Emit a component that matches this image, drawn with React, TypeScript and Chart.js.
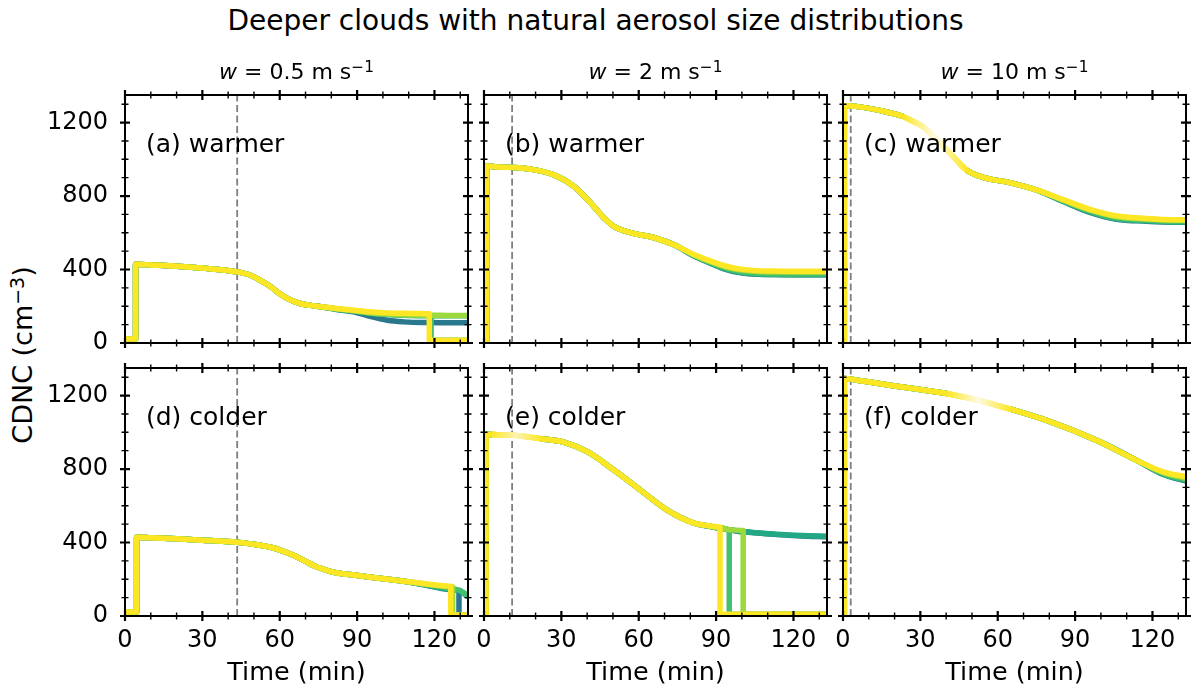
import React, { useEffect, useRef } from 'react';
import { Chart, registerables } from 'chart.js';

Chart.register(...registerables);

const FONT = "'DejaVu Sans', sans-serif";

const TITLE = 'Deeper clouds with natural aerosol size distributions';
const W_VALUES = ['0.5', '2', '10'];
const Y_LABEL = 'CDNC (cm';
const X_LABEL = 'Time (min)';

const SERIES_COLORS = ['#2a788e', '#22a884', '#44bf70', '#9bd93c', '#fde725'];
const X_TICKS = [0, 30, 60, 90, 120];
const X_MINOR = [10, 20, 40, 50, 70, 80, 100, 110, 130];
const Y_TICKS = [0, 400, 800, 1200];
const Y_MINOR = [100, 200, 300, 500, 600, 700, 900, 1000, 1100, 1300];
const X_MAX = 133;
const Y_MAX = 1350;

// (a) warmer, w = 0.5
const timeA = [0, 4.1, 4.1, 10, 20, 30, 43.5, 48.6, 52, 56.5, 60, 63, 68, 72, 76, 82, 89, 95, 101.7, 108, 114.7, 118, 118, 118.7, 118.7, 125, 133];
const a0 = [22, 22, 429, 425, 418, 408, 387, 369, 345, 306, 268, 242, 215, 205, 197, 182, 169, 145, 124, 115, 111, 111, 111, 111, 111, 110, 110];
const a1 = [22, 22, 429, 425, 418, 408, 387, 369, 345, 306, 268, 242, 215, 205, 197, 185, 173, 162, 155, 151, 149, 149, 149, 148, 148, 148, 148];
const a2 = [22, 22, 429, 425, 418, 408, 387, 369, 345, 306, 268, 242, 215, 205, 197, 185, 174, 163, 156, 153, 151, 151, 151, 150, 15, 15, 15];
const a3 = [22, 22, 429, 425, 418, 408, 387, 369, 345, 306, 268, 242, 215, 205, 197, 186, 175, 165, 158, 154, 152, 151, 151, 151, 151, 150, 150];
const a4 = [22, 22, 429, 425, 418, 408, 387, 369, 345, 306, 268, 242, 215, 205, 197, 188, 178, 170, 164, 162, 160, 159, 15, 15, 15, 15, 15];

// (b) warmer, w = 2
const timeB = [0, 1, 1, 5, 10, 18.2, 27.2, 35, 41.5, 46.7, 50.5, 57.1, 66.1, 73.9, 81.7, 89.6, 94, 99.7, 106, 115, 125, 133];
const b0 = [0, 0, 963, 958, 956, 946, 915, 851, 760, 679, 633, 600, 573, 533, 472, 424, 400, 382, 374, 372, 371, 371];
const b1 = [0, 0, 963, 958, 956, 946, 915, 851, 760, 679, 633, 600, 573, 533, 472, 425, 402, 384, 376, 373, 372, 372];
const b2 = [0, 0, 963, 958, 956, 946, 915, 851, 760, 679, 633, 600, 573, 533, 474, 428, 405, 388, 380, 376, 375, 375];
const b3 = [0, 0, 963, 958, 956, 946, 915, 851, 760, 679, 633, 600, 573, 533, 478, 433, 413, 397, 389, 386, 385, 385];
const b4 = [0, 0, 963, 958, 956, 946, 915, 851, 760, 679, 633, 600, 573, 533, 480, 437, 418, 402, 394, 391, 390, 390];

// (c) warmer, w = 10
const timeC = [0, 0.5, 0.5, 5, 14.2, 23.3, 27, 31, 37.6, 42.7, 47.9, 54.3, 64.7, 75, 85.4, 95.7, 106.1, 117.7, 125, 133];
const c0 = [0, 0, 1292, 1288, 1266, 1233, 1208, 1178, 1088, 1015, 942, 902, 873, 833, 770, 711, 674, 663, 659, 657];
const c1 = [0, 0, 1292, 1288, 1266, 1233, 1208, 1178, 1088, 1015, 942, 902, 873, 833, 772, 714, 676, 665, 660, 658];
const c2 = [0, 0, 1292, 1288, 1266, 1233, 1208, 1178, 1088, 1015, 942, 902, 873, 833, 774, 718, 680, 668, 663, 661];
const c3 = [0, 0, 1292, 1288, 1266, 1233, 1208, 1178, 1088, 1015, 942, 902, 873, 833, 778, 724, 687, 675, 670, 668];
const c4 = [0, 0, 1292, 1288, 1266, 1233, 1208, 1178, 1088, 1015, 942, 902, 873, 833, 780, 728, 692, 678, 672, 670];

// (d) colder, w = 0.5
const timeD = [0, 4.5, 4.5, 10, 20, 30, 43.5, 50, 56.5, 61, 65.5, 70, 73.3, 77, 81, 88, 95.3, 102, 108.2, 115, 123.7, 126.3, 126.3, 127, 127, 129.5, 129.5, 131, 133];
const d0 = [22, 22, 429, 426, 420, 413, 401, 390, 374, 355, 329, 298, 274, 255, 238, 224, 211, 200, 189, 172, 148, 143, 143, 142, 142, 138, 5, 5, 5];
const d1 = [22, 22, 429, 426, 420, 413, 401, 390, 374, 355, 329, 298, 274, 255, 238, 224, 211, 200, 189, 173, 150, 145, 145, 144, 144, 138, 138, 125, 105];
const d2 = [22, 22, 429, 426, 420, 413, 401, 390, 374, 355, 329, 298, 274, 255, 238, 224, 211, 200, 189, 175, 155, 150, 150, 149, 149, 142, 142, 130, 110];
const d3 = [22, 22, 429, 426, 420, 413, 401, 390, 374, 355, 329, 298, 274, 255, 238, 224, 211, 200, 189, 177, 162, 159, 159, 158, 5, 5, 5, 5, 5];
const d4 = [22, 22, 429, 426, 420, 413, 401, 390, 374, 355, 329, 298, 274, 255, 238, 224, 211, 200, 189, 178, 165, 162, 5, 5, 5, 5, 5, 5, 5];

// (e) colder, w = 2
const timeE = [0, 0.8, 0.8, 3, 5, 11.8, 22.1, 31.2, 40.2, 50.5, 60.8, 71.2, 81.5, 87, 91.5, 91.5, 95.1, 95.1, 100.5, 100.5, 104, 113.6, 123, 133];
const e0 = [0, 0, 989, 988, 987, 984, 965, 945, 893, 793, 684, 575, 505, 489, 478, 478, 468, 468, 458, 458, 454, 443, 436, 432];
const e1 = [0, 0, 989, 988, 987, 984, 965, 945, 893, 793, 684, 575, 505, 490, 479, 479, 469, 469, 459, 459, 455, 445, 438, 434];
const e2 = [0, 0, 989, 988, 987, 984, 965, 945, 893, 793, 684, 575, 505, 490, 480, 480, 470, 10, 10, 10, 10, 10, 10, 10];
const e3 = [0, 0, 989, 988, 987, 984, 965, 945, 893, 793, 684, 575, 505, 490, 480, 480, 470, 470, 465, 10, 10, 10, 10, 10];
const e4 = [0, 0, 989, 988, 987, 984, 965, 945, 893, 793, 684, 575, 505, 492, 485, 10, 10, 10, 10, 10, 10, 10, 10, 10];

// (f) colder, w = 10
const timeF = [0, 0.5, 0.5, 5, 20.8, 40.2, 44, 51, 58, 65, 79, 98.4, 113.9, 124.2, 133];
const f0 = [0, 0, 1293, 1285, 1251, 1211, 1200, 1180, 1153, 1126, 1065, 956, 847, 770, 734];
const f1 = [0, 0, 1293, 1285, 1251, 1211, 1200, 1180, 1153, 1126, 1065, 956, 847, 772, 737];
const f2 = [0, 0, 1293, 1285, 1251, 1211, 1200, 1180, 1153, 1126, 1065, 956, 847, 775, 742];
const f3 = [0, 0, 1293, 1285, 1251, 1211, 1200, 1180, 1153, 1126, 1065, 956, 847, 780, 750];
const f4 = [0, 0, 1293, 1285, 1251, 1211, 1200, 1180, 1153, 1126, 1065, 956, 847, 785, 758];

// start-of-cloud marker (dashed) per column
const DASH_X = [43.5, 10.9, 3.0];

// faded stretches of the curves seen in the figure: [from, to, middle colour]
type Fade = [number, number, string] | null;

type PanelDef = {
  label: string;
  row: number;
  col: number;
  times: number[];
  series: number[][];
  fade: Fade;
};

const PANELS: PanelDef[] = [
  { label: '(a) warmer', row: 0, col: 0, times: timeA, series: [a0, a1, a2, a3, a4], fade: null },
  { label: '(b) warmer', row: 0, col: 1, times: timeB, series: [b0, b1, b2, b3, b4], fade: null },
  { label: '(c) warmer', row: 0, col: 2, times: timeC, series: [c0, c1, c2, c3, c4], fade: [23.3, 47.9, '#fdfbe4'] },
  { label: '(d) colder', row: 1, col: 0, times: timeD, series: [d0, d1, d2, d3, d4], fade: null },
  { label: '(e) colder', row: 1, col: 1, times: timeE, series: [e0, e1, e2, e3, e4], fade: [3, 22.1, '#fbf3b0'] },
  { label: '(f) colder', row: 1, col: 2, times: timeF, series: [f0, f1, f2, f3, f4], fade: [40.2, 65, '#fdfae0'] },
];

const PANEL_LEFT = [125, 484, 843];
const PANEL_TOP = [95, 368];
const PANEL_W = 343;
const PANEL_H = 248;
const PAD_L = 80;
const PAD_T = 40;
const PAD_R = 40;
const PAD_B = 60;

const framePlugin = {
  id: 'frame',
  afterDraw(chart: any, _args: any, opts: any) {
    const { ctx, chartArea: a, scales } = chart;
    const xs = scales.x;
    const ys = scales.y;
    ctx.save();
    ctx.strokeStyle = '#000';
    ctx.lineCap = 'butt';
    const tickSet = (vals: number[], len: number, w: number) => {
      ctx.lineWidth = w;
      ctx.beginPath();
      vals.forEach((v) => {
        const px = xs.getPixelForValue(v);
        ctx.moveTo(px, a.bottom - len);
        ctx.lineTo(px, a.bottom + len);
        ctx.moveTo(px, a.top - len);
        ctx.lineTo(px, a.top + len);
      });
      ctx.stroke();
    };
    const tickSetY = (vals: number[], len: number, w: number) => {
      ctx.lineWidth = w;
      ctx.beginPath();
      vals.forEach((v) => {
        const py = ys.getPixelForValue(v);
        ctx.moveTo(a.left - len, py);
        ctx.lineTo(a.left + len, py);
        ctx.moveTo(a.right - len, py);
        ctx.lineTo(a.right + len, py);
      });
      ctx.stroke();
    };
    tickSet(X_MINOR, 3.5, 1.4);
    tickSet(X_TICKS, 5, 2.2);
    tickSetY(Y_MINOR, 3.5, 1.4);
    tickSetY(Y_TICKS, 5, 2.2);
    ctx.lineWidth = 2;
    ctx.strokeRect(a.left, a.top, a.right - a.left, a.bottom - a.top);
    ctx.fillStyle = '#000';
    ctx.font = `25px ${FONT}`;
    ctx.textBaseline = 'alphabetic';
    ctx.textAlign = 'left';
    ctx.fillText(opts.label, a.left + 21, a.top + 57);
    ctx.restore();
  },
};

function PanelChart({ def }: { def: PanelDef }) {
  const ref = useRef<HTMLCanvasElement>(null);
  const width = PANEL_W + PAD_L + PAD_R;
  const height = PANEL_H + PAD_T + PAD_B;

  useEffect(() => {
    const canvas = ref.current;
    if (!canvas) return;
    const c2d = canvas.getContext('2d') as CanvasRenderingContext2D;
    const n = def.series.length;
    const fade = def.fade;
    let fadeGrad: CanvasGradient | null = null;
    if (fade) {
      const px = (t: number) => PAD_L + (t / X_MAX) * PANEL_W;
      fadeGrad = c2d.createLinearGradient(px(fade[0]), 0, px(fade[1]), 0);
      fadeGrad.addColorStop(0, SERIES_COLORS[4]);
      fadeGrad.addColorStop(0.5, fade[2]);
      fadeGrad.addColorStop(1, SERIES_COLORS[4]);
    }
    const datasets: any[] = def.series.map((vals, i) => ({
      label: `s${i}`,
      data: def.times.map((t, j) => ({ x: t, y: vals[j] })),
      borderColor: SERIES_COLORS[i],
      backgroundColor: SERIES_COLORS[i],
      borderWidth: 5.5,
      pointRadius: 0,
      cubicInterpolationMode: 'monotone',
      fill: false,
      borderJoinStyle: 'round',
      order: n - 1 - i,
      segment: {
        borderColor: (sc: any) => {
          if (!fade || !fadeGrad) return undefined;
          const x0 = sc.p0.parsed.x;
          const x1 = sc.p1.parsed.x;
          return x0 >= fade[0] && x1 <= fade[1] ? fadeGrad : undefined;
        },
      },
    }));
    datasets.push({
      label: 'start',
      data: [
        { x: DASH_X[def.col], y: 0 },
        { x: DASH_X[def.col], y: Y_MAX },
      ],
      borderColor: '#7f7f7f',
      borderWidth: 1.8,
      borderDash: [7, 3.5],
      pointRadius: 0,
      fill: false,
      order: 10,
    });
    const tickFont = { family: FONT, size: 24 };
    const chart = new Chart(canvas, {
      type: 'line',
      data: { datasets },
      options: {
        responsive: false,
        maintainAspectRatio: false,
        animation: false,
        events: [],
        layout: { padding: { left: 0, top: PAD_T, right: PAD_R, bottom: 0 } },
        plugins: {
          legend: { display: false },
          tooltip: { enabled: false },
          frame: { label: def.label },
        } as any,
        scales: {
          x: {
            type: 'linear',
            min: 0,
            max: X_MAX,
            grid: { display: false, drawTicks: false },
            border: { display: false },
            afterFit: (s: any) => {
              s.height = PAD_B;
            },
            afterBuildTicks: (s: any) => {
              s.ticks = X_TICKS.map((v) => ({ value: v }));
            },
            ticks: {
              display: def.row === 1,
              font: tickFont,
              color: '#000',
              padding: 10,
              maxRotation: 0,
              autoSkip: false,
              callback: (v: any) => String(v),
            },
          },
          y: {
            type: 'linear',
            min: 0,
            max: Y_MAX,
            grid: { display: false, drawTicks: false },
            border: { display: false },
            afterFit: (s: any) => {
              s.width = PAD_L;
            },
            afterBuildTicks: (s: any) => {
              s.ticks = Y_TICKS.map((v) => ({ value: v }));
            },
            ticks: {
              display: def.col === 0,
              font: tickFont,
              color: '#000',
              padding: 17,
              autoSkip: false,
              callback: (v: any) => String(v),
            },
          },
        },
      } as any,
      plugins: [framePlugin],
    });
    return () => chart.destroy();
  }, [def]);

  return (
    <canvas
      ref={ref}
      width={width}
      height={height}
      style={{
        position: 'absolute',
        left: PANEL_LEFT[def.col] - PAD_L,
        top: PANEL_TOP[def.row] - PAD_T,
        width,
        height,
      }}
    />
  );
}

const supStyle: React.CSSProperties = {
  position: 'relative',
  top: '-0.45em',
  fontSize: '0.7em',
};

export default function App() {
  return (
    <div
      style={{
        position: 'fixed',
        left: 0,
        top: 0,
        width: 1191,
        height: 688,
        background: '#fff',
        fontFamily: FONT,
        color: '#000',
        overflow: 'hidden',
      }}
    >
      {PANELS.map((p) => (
        <PanelChart key={p.label} def={p} />
      ))}
      <div
        style={{
          position: 'absolute',
          left: 0,
          width: 1191,
          top: 7,
          textAlign: 'center',
          fontSize: 28,
          lineHeight: 1,
          whiteSpace: 'nowrap',
        }}
      >
        {TITLE}
      </div>
      {W_VALUES.map((w, i) => (
        <div
          key={w}
          style={{
            position: 'absolute',
            left: PANEL_LEFT[i],
            width: PANEL_W,
            top: 61,
            textAlign: 'center',
            fontSize: 22,
            lineHeight: 1,
            whiteSpace: 'nowrap',
          }}
        >
          <i>w</i> = {w} m s<span style={supStyle}>−1</span>
        </div>
      ))}
      {PANEL_LEFT.map((l, i) => (
        <div
          key={'xl' + i}
          style={{
            position: 'absolute',
            left: l,
            width: PANEL_W,
            top: 659,
            textAlign: 'center',
            fontSize: 25.5,
            lineHeight: 1,
            whiteSpace: 'nowrap',
          }}
        >
          {X_LABEL}
        </div>
      ))}
      <div
        style={{
          position: 'absolute',
          left: 22,
          top: 355,
          transform: 'translate(-50%, -50%) rotate(-90deg)',
          fontSize: 27,
          lineHeight: 1,
          whiteSpace: 'nowrap',
        }}
      >
        {Y_LABEL}
        <span style={supStyle}>−3</span>)
      </div>
    </div>
  );
}
